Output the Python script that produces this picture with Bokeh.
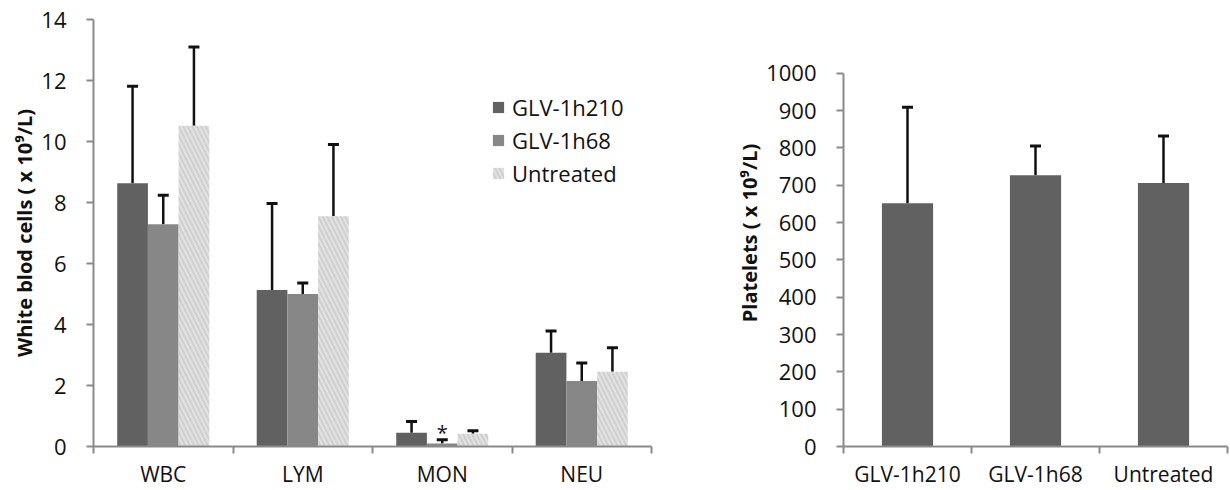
from bokeh.plotting import figure
from bokeh.layouts import row
from bokeh.models import (ColumnDataSource, FixedTicker, LinearAxis, Range1d,
                          Whisker, TeeHead, Legend, LegendItem)
from bokeh.core.properties import value
from bokeh.embed import file_html
from bokeh.resources import INLINE

# White blood cell counts (x 10^9/L)
cell_types = ["WBC", "LYM", "MON", "NEU"]
glv_1h210 = [8.63, 5.13, 0.45, 3.07]
glv_1h210_err = [3.18, 2.84, 0.37, 0.72]
glv_1h68 = [7.29, 5.00, 0.10, 2.15]
glv_1h68_err = [0.95, 0.36, 0.12, 0.59]
untreated = [10.52, 7.55, 0.42, 2.45]
untreated_err = [2.58, 2.35, 0.10, 0.79]

# Platelet counts (x 10^9/L)
groups = ["GLV-1h210", "GLV-1h68", "Untreated"]
platelets = [652, 727, 706]
platelets_err = [257, 78, 126]

FONT = "Open Sans"
DARK = "#616161"
MID = "#878787"
LIGHT = "#e2e2e2"
AXIS = "#8a8a8a"
INK = "#111111"


def style_y(p, ytitle, label_standoff, title_standoff):
    ax = p.yaxis
    ax.axis_label = ytitle
    ax.axis_label_text_font = FONT
    ax.axis_label_text_font_style = "bold"
    ax.axis_label_text_font_size = "20px"
    ax.axis_label_text_color = INK
    ax.axis_label_standoff = title_standoff
    ax.major_label_text_font = FONT
    ax.major_label_text_font_size = "22px"
    ax.major_label_text_color = INK
    ax.axis_line_color = AXIS
    ax.axis_line_width = 2
    ax.major_tick_line_color = AXIS
    ax.major_tick_line_width = 2
    ax.major_tick_out = 7
    ax.major_tick_in = 0
    ax.minor_tick_line_color = None
    ax.major_label_standoff = label_standoff


def category_axis(p, n, labels, size):
    # names at the group centres, short ticks at the group boundaries
    centers = [i + 0.5 for i in range(n)]
    ax = LinearAxis(ticker=FixedTicker(ticks=centers, minor_ticks=list(range(n + 1))),
                    major_label_overrides={c: t for c, t in zip(centers, labels)},
                    axis_line_color=AXIS, axis_line_width=2,
                    major_tick_line_color=None,
                    minor_tick_line_color=AXIS, minor_tick_line_width=2,
                    minor_tick_out=7, minor_tick_in=0,
                    major_label_text_font=FONT,
                    major_label_text_font_size=size,
                    major_label_text_color=INK,
                    major_label_standoff=6)
    p.add_layout(ax, "below")


def base_fig(width, x_end, y_end, border_left, border_right):
    p = figure(width=width, height=490, output_backend="svg", toolbar_location=None,
               x_range=Range1d(0, x_end), y_range=Range1d(0, y_end),
               x_axis_location=None, min_border_left=border_left,
               min_border_right=border_right, min_border_top=19,
               min_border_bottom=43)
    p.outline_line_color = None
    p.grid.visible = False
    p.background_fill_color = "white"
    p.border_fill_color = "white"
    return p


def error_bars(p, src, base, lo, hi):
    p.add_layout(Whisker(source=src, base=base, lower=lo, upper=hi, dimension="height",
                         line_color=INK, line_width=2.5, lower_head=None,
                         upper_head=TeeHead(size=11, line_color=INK, line_width=3)))


# ---- left chart: white blood cells ----
n = len(cell_types)
centers = [i + 0.5 for i in range(n)]
bw = 0.22
src = ColumnDataSource(dict(
    x1=[c - bw for c in centers], x2=centers, x3=[c + bw for c in centers],
    a=glv_1h210, a_top=[v + e for v, e in zip(glv_1h210, glv_1h210_err)],
    b=glv_1h68, b_top=[v + e for v, e in zip(glv_1h68, glv_1h68_err)],
    c=untreated, c_top=[v + e for v, e in zip(untreated, untreated_err)],
))

p1 = base_fig(700, n, 14, 93, 49)
p1.yaxis.ticker = FixedTicker(ticks=list(range(0, 15, 2)))
style_y(p1, "White blod cells ( x 10\u2079/L)", 20, 0)
category_axis(p1, n, cell_types, "21px")

r1 = p1.vbar(x="x1", top="a", width=bw, source=src, fill_color=DARK, line_color=None)
r2 = p1.vbar(x="x2", top="b", width=bw, source=src, fill_color=MID, line_color=None)
# light marbled fill for the untreated group
r3 = p1.vbar(x="x3", top="c", width=bw, source=src, fill_color=LIGHT, line_color=None,
             hatch_pattern="\\", hatch_color="#b9b9b9", hatch_scale=9,
             hatch_weight=2, hatch_alpha=0.45)

for xcol, lo, hi in (("x1", "a", "a_top"), ("x2", "b", "b_top"), ("x3", "c", "c_top")):
    error_bars(p1, src, xcol, lo, hi)

# significance mark on GLV-1h68 monocytes
mon = cell_types.index("MON")
p1.text(x=[centers[mon]], y=[glv_1h68[mon] + glv_1h68_err[mon]], text=["*"],
        text_font=value(FONT), text_font_size="20px", text_align="center",
        text_baseline="bottom", y_offset=6, text_color=INK)

legend = Legend(items=[LegendItem(label="GLV-1h210", renderers=[r1]),
                       LegendItem(label="GLV-1h68", renderers=[r2]),
                       LegendItem(label="Untreated", renderers=[r3])],
                location=(398, 258), label_text_font=FONT,
                label_text_font_size="22px", label_text_color=INK,
                glyph_width=14, glyph_height=14, label_height=24,
                spacing=3, padding=2, label_standoff=7,
                border_line_color=None, background_fill_alpha=0)
p1.add_layout(legend, "center")

# ---- right chart: platelets ----
m = len(groups)
pc = [i + 0.5 for i in range(m)]
psrc = ColumnDataSource(dict(x=pc, top=platelets,
                             up=[v + e for v, e in zip(platelets, platelets_err)]))
# the frame runs a little above 1000; the axis line itself stops there
p2 = base_fig(530, m, 1144, 143, 3)
p2.yaxis.ticker = FixedTicker(ticks=list(range(0, 1001, 100)))
p2.yaxis.bounds = (0, 1000)
style_y(p2, "Platelets ( x 10\u2079/L)", 20, 0)
category_axis(p2, m, groups, "21px")
p2.vbar(x="x", top="top", width=0.4, source=psrc, fill_color=DARK, line_color=None)
error_bars(p2, psrc, "x", "top", "up")

layout = row(p1, p2)
open("out.html", "w").write(file_html(layout, INLINE))
